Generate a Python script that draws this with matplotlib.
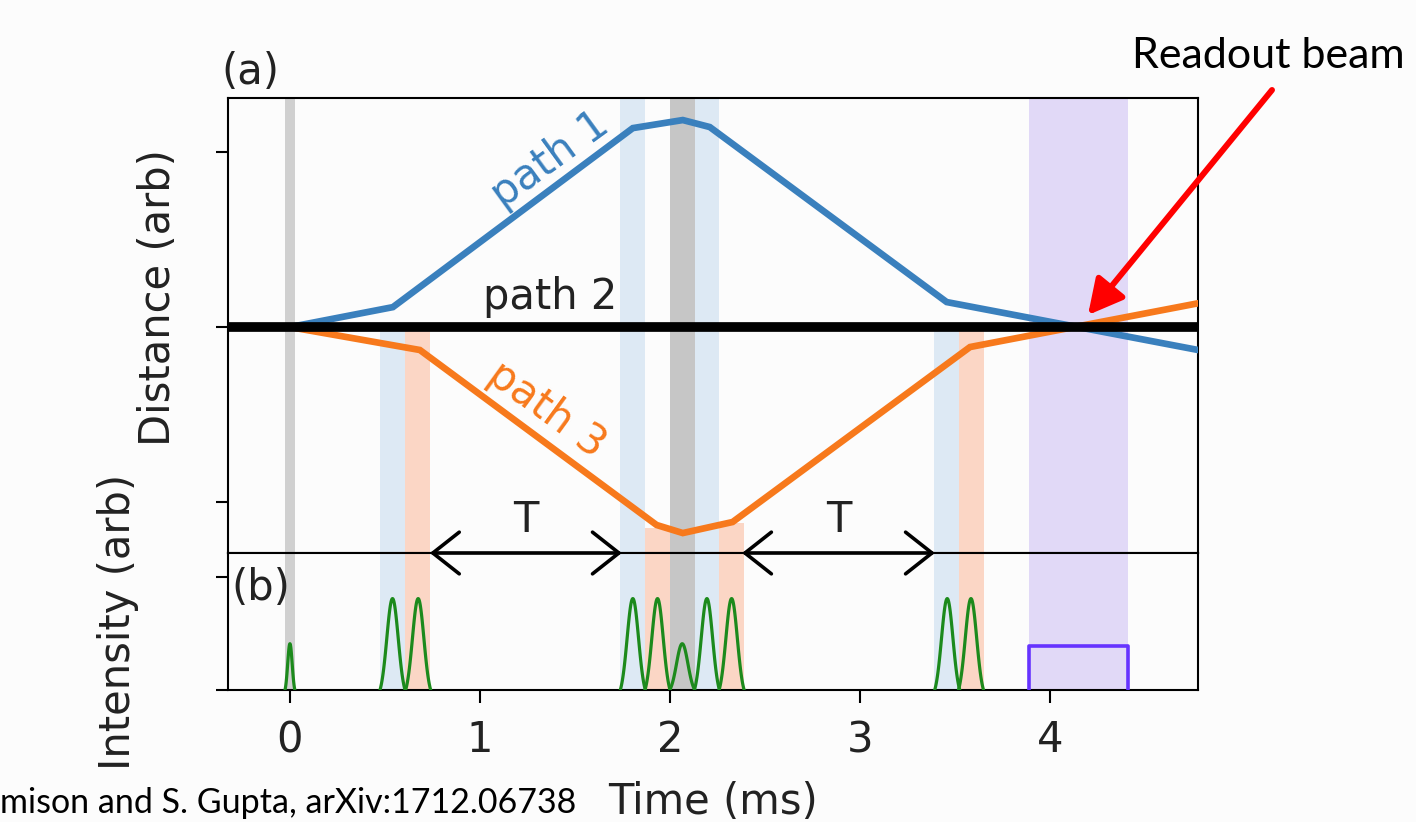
import numpy as np
import matplotlib.pyplot as plt
from matplotlib.patches import Rectangle

# path positions (time in ms, distance in arb units)
t1 = [-0.33, 0.0, 0.542, 1.805, 2.068, 2.21, 3.457, 4.8]
path1 = [0.0, 0.0, 0.114, 1.137, 1.183, 1.143, 0.143, -0.135]
t3 = [-0.33, 0.0, 0.684, 1.93, 2.068, 2.33, 3.58, 4.8]
path3 = [0.0, 0.0, -0.131, -1.131, -1.177, -1.114, -0.114, 0.14]

# beam windows: start, end, top in (a) (None = full height), colour
band_start = [-0.026, 0.474, 0.605, 1.737, 1.868, 2.0, 2.13, 2.26, 3.39, 3.52, 3.89]
band_end = [0.026, 0.605, 0.737, 1.868, 2.0, 2.13, 2.26, 2.39, 3.52, 3.655, 4.41]
band_top = [None, 0.0, 0.0, None, -1.15, None, None, -1.12, 0.0, 0.0, None]
band_col = ['#d0d0d0', '#dde9f4', '#fbd6c5', '#dde9f4', '#fbd6c5', '#c6c6c6',
            '#dde9f4', '#fbd6c5', '#dde9f4', '#fbd6c5', '#e1d9f7']

# pulse centres, heights, half widths (ms)
pulse_c = [0.0, 0.54, 0.675, 1.805, 1.935, 2.065, 2.195, 2.325, 3.46, 3.585]
pulse_h = [0.41, 0.81, 0.81, 0.81, 0.81, 0.41, 0.81, 0.81, 0.81, 0.81]
pulse_w = [0.026, 0.066, 0.066, 0.066, 0.066, 0.066, 0.066, 0.066, 0.066, 0.066]

readout_start, readout_end, readout_h = 3.89, 4.41, 0.39

T_arrows = [(0.737, 1.747), (2.38, 3.395)]
xticks = [0, 1, 2, 3, 4]

bg = '#fcfcfc'
fs = 30
plt.rcParams['font.family'] = 'DejaVu Sans'

fig = plt.figure(figsize=(14.16, 8.22), dpi=100, facecolor=bg)
ax_a = fig.add_axes([228/1416, 1-553/822, 970/1416, 455/822])
ax_b = fig.add_axes([228/1416, 1-690/822, 970/1416, 137/822])

xlim = (-0.326, 4.78)
ylim_a = (-1.291, 1.309)
ylim_b = (0, 1.214)

for ax in (ax_a, ax_b):
    ax.set_facecolor(bg)
    ax.set_xlim(*xlim)
    for s in ax.spines.values():
        s.set_linewidth(1.5)
    ax.tick_params(length=9, width=1.5, labelleft=False)

ax_a.set_ylim(*ylim_a)
ax_b.set_ylim(*ylim_b)

# bands
for x0, x1, top, c in zip(band_start, band_end, band_top, band_col):
    ytop = ylim_a[1] if top is None else top
    ax_a.add_patch(Rectangle((x0, ylim_a[0]), x1 - x0, ytop - ylim_a[0],
                             facecolor=c, edgecolor='none', zorder=0))
    ax_b.axvspan(x0, x1, color=c, lw=0, zorder=0)

# paths
ax_a.plot(t1, path1, color='#3a80bd', lw=4.8, solid_joinstyle='miter', zorder=3)
ax_a.plot(t3, path3, color='#f7791c', lw=4.8, solid_joinstyle='miter', zorder=3)
ax_a.axhline(0, color='black', lw=7, zorder=4)

ax_a.text(1.37, 0.96, 'path 1', color='#3a80bd', fontsize=fs, rotation=36,
          ha='center', va='center')
ax_a.text(1.37, 0.17, 'path 2', color='#222222', fontsize=fs,
          ha='center', va='center')
ax_a.text(1.35, -0.47, 'path 3', color='#f7791c', fontsize=fs, rotation=-36,
          ha='center', va='center')

# T arrows on the boundary (drawn from the lower axes so they sit on top)
for x0, x1 in T_arrows:
    ax_b.annotate('', xy=(x0, ylim_b[1]), xytext=(x1, ylim_b[1]),
                  arrowprops=dict(arrowstyle='<->,head_length=0.95,head_width=0.75',
                                  mutation_scale=20, lw=2.6, color='black',
                                  shrinkA=0, shrinkB=0),
                  annotation_clip=False, zorder=6)
    ax_a.text((x0 + x1) / 2, -1.10, 'T', fontsize=fs, ha='center', va='center',
              color='#222222')

ax_a.set_yticks([-1, 0, 1])
ax_a.tick_params(axis='x', bottom=False, labelbottom=False)

# pulses: gaussian shape cut at the base
for c, h, w in zip(pulse_c, pulse_h, pulse_w):
    x = np.linspace(c - w, c + w, 80)
    sig = w / 2.2
    g = np.exp(-(x - c) ** 2 / (2 * sig ** 2))
    g0 = np.exp(-w ** 2 / (2 * sig ** 2))
    ax_b.plot(x, h * (g - g0) / (1 - g0), color='#1c8a1c', lw=2.3, zorder=3)

ax_b.plot([readout_start, readout_start, readout_end, readout_end],
          [0, readout_h, readout_h, 0], color='#6633ff', lw=2.6, zorder=3)

ax_b.set_yticks([0, 1])
ax_b.set_xticks(xticks)
ax_b.tick_params(axis='x', labelsize=fs, pad=12, labelcolor='#222222')
ax_b.set_xlabel('Time (ms)', fontsize=fs, color='#222222', labelpad=14)

fig.text(250/1416, 1-72/822, '(a)', fontsize=fs, ha='center', va='center', color='#222222')
fig.text(261/1416, 1-588/822, '(b)', fontsize=fs, ha='center', va='center', color='#222222')
fig.text(158/1416, 1-298/822, 'Distance (arb)', fontsize=fs, rotation=90,
         ha='center', va='center', color='#222222')
fig.text(118/1416, 1-622/822, 'Intensity (arb)', fontsize=fs, rotation=90,
         ha='center', va='center', color='#222222')

# readout annotation
fig.text(1268/1416, 1-68/822, 'Readout beam', fontsize=31, family='Lato',
         ha='center', va='baseline', color='black')
ax_a.annotate('', xy=(1088, 822-315), xycoords='figure pixels',
              xytext=(1272, 822-90), textcoords='figure pixels',
              arrowprops=dict(arrowstyle='-|>,head_length=1.05,head_width=0.55',
                              mutation_scale=20, lw=4.3, color='#ff0000',
                              shrinkA=0, shrinkB=0),
              annotation_clip=False)

fig.text(0.0, 1-813/822, 'mison and S. Gupta, arXiv:1712.06738', fontsize=24.5,
         family='Lato', ha='left', va='baseline', color='black')

fig.savefig('out.png', dpi=100, facecolor=bg)
